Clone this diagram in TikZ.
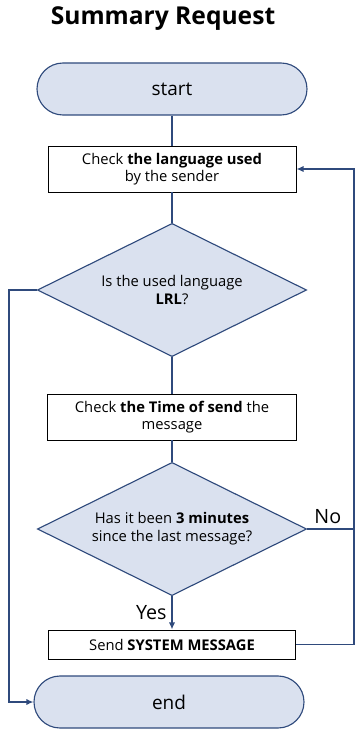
\documentclass[tikz,border=0pt]{standalone}
\usepackage{fontspec}
\setmainfont{Open Sans}
\usetikzlibrary{shapes.geometric, arrows.meta}

\definecolor{flowfill}{HTML}{DAE1EF}
\definecolor{flowline}{HTML}{2F4A7C}

\tikzset{
	terminal/.style={draw=flowline, fill=flowfill, line width=0.8pt, rounded corners=0.65cm, minimum width=6.75cm, minimum height=1.3cm, font=\fontsize{13.5}{16}\selectfont},
	process/.style={draw=black, fill=white, line width=0.7pt, minimum width=6.2cm, align=center, font=\fontsize{10.5}{12.5}\selectfont},
	decision/.style={draw=flowline, fill=flowfill, line width=0.8pt, diamond, aspect=2, inner sep=0pt, minimum width=6.73cm, minimum height=3.33cm, align=center, font=\fontsize{10.5}{13}\selectfont},
	flow/.style={draw=flowline, line width=1pt},
	flowarrow/.style={flow, -{Latex[length=5pt, width=4.5pt]}},
	answer/.style={font=\fontsize{14}{16}\selectfont}
}

\begin{document}
\begin{tikzpicture}
	\useasboundingbox (0,0) rectangle (8.875,-18.225);
	\node[font=\bfseries\fontsize{17.5}{21}\selectfont] (title) at (4.075,-0.47) {Summary Request};
	% nodes
	\node[terminal] (start) at (4.3,-2.225) {start};
	\node[process, minimum height=1.15cm] (lang) at (4.3,-4.225) {Check \textbf{the language used}\\by the sender};
	\node[decision] (lrl) at (4.3,-7.25) {Is the used language\\\textbf{LRL}?};
	\node[process, minimum height=1.15cm, minimum width=6.225cm] (time) at (4.3,-10.425) {Check \textbf{the Time of send} the\\message};
	\node[decision] (wait) at (4.3,-13.225) {Has it been \textbf{3 minutes}\\since the last message?};
	\node[process, minimum height=0.725cm, minimum width=6.175cm] (sysmsg) at (4.3,-16.1125) {Send \textbf{SYSTEM MESSAGE}};
	\node[terminal] (end) at (4.225,-17.55) {end};
	\coordinate (leftrail) at (0.225,0);
	\coordinate (rightrail) at (8.85,0);
	% connectors
	\draw[flow] (start) -- (lang);
	\draw[flow] (lang) -- (lrl);
	\draw[flow] (lrl) -- (time);
	\draw[flow] (time) -- (wait);
	\draw[flowarrow] (wait) -- node[left, answer]{Yes} (sysmsg);
	\draw[flowarrow] (lrl.west) -- (lrl.west -| leftrail) |- (end.west);
	\draw[flowarrow] (wait.east) -- node[above, answer, xshift=-2pt]{No} (wait.east -| rightrail) |- (lang.east);
	\draw[flow] (sysmsg.east) -- (sysmsg.east -| rightrail) -- (rightrail |- wait.east);
\end{tikzpicture}
\end{document}
